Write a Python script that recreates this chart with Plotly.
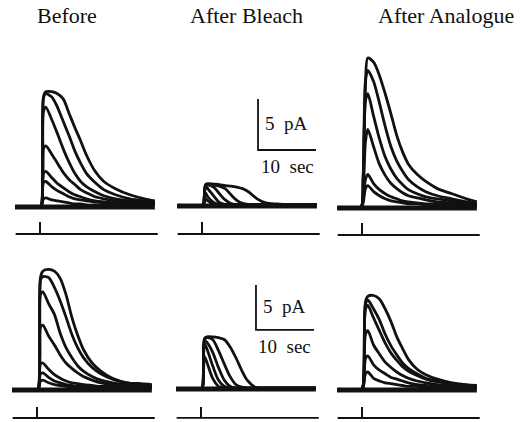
import plotly.graph_objects as go

# ---------------- data ----------------
# time (s, flash at t = 0) at which each current trace (pA) was sampled
T = [-4.3, -2, -0.2, 0.2, 0.6, 1, 2, 3, 4, 5, 6, 7, 8, 9.5, 11, 13, 15.5, 18, 19.8]

TOP_BEFORE = [
    [0, 0, 0, 0, 10.8, 11.3, 11.3, 11.1, 10.6, 9.2, 7.8, 6.5, 5.1, 3.5, 2.5, 1.8, 1.2, 0.8, 0.6],
    [0, 0, 0, 0, 10.7, 11.1, 10.8, 9.8, 8.4, 7.0, 5.5, 4.3, 3.3, 2.4, 1.7, 1.2, 0.8, 0.6, 0.5],
    [0, 0, 0, 0, 9.4, 9.8, 8.6, 7.2, 5.7, 4.4, 3.3, 2.5, 2.0, 1.5, 1.1, 0.8, 0.6, 0.5, 0.4],
    [0, 0, 0, 0, 5.7, 6.0, 5.2, 4.3, 3.4, 2.7, 2.2, 1.7, 1.4, 1.0, 0.8, 0.6, 0.5, 0.4, 0.4],
    [0, 0, 0, 0, 3.3, 3.5, 2.9, 2.3, 1.9, 1.5, 1.2, 1.0, 0.8, 0.6, 0.5, 0.4, 0.4, 0.3, 0.3],
    [0, 0, 0, 0, 2.4, 2.5, 2.0, 1.6, 1.3, 1.0, 0.8, 0.7, 0.6, 0.5, 0.4, 0.3, 0.3, 0.3, 0.3],
    [0, 0, 0, 0, 0.8, 0.9, 0.7, 0.6, 0.5, 0.4, 0.3, 0.3, 0.2, 0.2, 0.2, 0.2, 0.2, 0.2, 0.2],
]
TOP_BLEACH = [
    [0, 0, 0, 0, 2.1, 2.2, 2.15, 2.1, 2.0, 1.95, 1.85, 1.7, 1.4, 0.7, 0.3, 0.2, 0.1, 0.1, 0.1],
    [0, 0, 0, 0, 2.0, 2.1, 2.05, 1.95, 1.7, 1.1, 0.55, 0.25, 0.15, 0.1, 0.1, 0.1, 0.1, 0.1, 0.1],
    [0, 0, 0, 0, 2.0, 2.05, 1.85, 1.2, 0.6, 0.25, 0.15, 0.1, 0.1, 0.1, 0.1, 0.1, 0.1, 0.1, 0.1],
    [0, 0, 0, 0, 1.9, 1.7, 1.0, 0.35, 0.15, 0.1, 0.1, 0.1, 0.1, 0.1, 0.1, 0.1, 0.1, 0.1, 0.1],
    [0, 0, 0, 0, 1.3, 0.9, 0.35, 0.15, 0.1, 0.1, 0.1, 0.1, 0.1, 0.1, 0.1, 0.1, 0.1, 0.1, 0.1],
    [0, 0, 0, 0, 0.7, 0.5, 0.2, 0.1, 0.1, 0.1, 0.1, 0.1, 0.1, 0.1, 0.1, 0.1, 0.1, 0.1, 0.1],
]
TOP_ANALOGUE = [
    [0, 0, 0, 3.0, 12.0, 14.7, 14.3, 13.0, 11.2, 9.2, 7.1, 5.5, 4.3, 3.3, 2.6, 1.9, 1.4, 0.9, 0.6],
    [0, 0, 0, 3.0, 12.5, 13.5, 12.4, 10.3, 8.0, 6.0, 4.6, 3.6, 2.8, 2.1, 1.6, 1.2, 0.9, 0.6, 0.4],
    [0, 0, 0, 2.5, 10.5, 11.2, 9.0, 6.8, 5.0, 3.8, 2.9, 2.3, 1.8, 1.4, 1.1, 0.9, 0.7, 0.5, 0.4],
    [0, 0, 0, 1.5, 6.5, 7.7, 6.0, 4.3, 3.2, 2.4, 1.9, 1.5, 1.2, 1.0, 0.8, 0.6, 0.5, 0.4, 0.3],
    [0, 0, 0, 0.8, 2.8, 3.3, 2.4, 1.8, 1.4, 1.1, 0.9, 0.7, 0.6, 0.5, 0.4, 0.4, 0.3, 0.3, 0.2],
    [0, 0, 0, 0.5, 1.9, 2.2, 1.6, 1.2, 0.9, 0.7, 0.6, 0.5, 0.4, 0.4, 0.3, 0.3, 0.3, 0.2, 0.2],
]
BOTTOM_BEFORE = [
    [0, 0, 0, 0, 12.5, 13.2, 13.4, 13.2, 12.4, 10.6, 8.1, 6.1, 4.5, 3.0, 2.1, 1.3, 0.8, 0.7, 0.6],
    [0, 0, 0, 0, 12.2, 12.6, 12.5, 11.4, 9.9, 8.1, 6.2, 4.7, 3.6, 2.5, 1.8, 1.2, 0.8, 0.6, 0.5],
    [0, 0, 0, 0, 10.6, 10.9, 9.6, 8.4, 6.3, 4.7, 3.6, 2.7, 2.1, 1.5, 1.1, 0.8, 0.6, 0.5, 0.4],
    [0, 0, 0, 0, 7.0, 7.2, 6.0, 5.0, 3.9, 3.0, 2.4, 1.9, 1.5, 1.1, 0.8, 0.6, 0.5, 0.4, 0.4],
    [0, 0, 0, 0, 2.9, 3.0, 2.3, 1.7, 1.3, 1.0, 0.8, 0.7, 0.6, 0.5, 0.4, 0.4, 0.3, 0.3, 0.3],
    [0, 0, 0, 0, 1.8, 1.9, 1.4, 1.0, 0.8, 0.6, 0.5, 0.4, 0.4, 0.3, 0.3, 0.3, 0.3, 0.3, 0.3],
    [0, 0, 0, 0, 1.0, 1.1, 0.8, 0.6, 0.5, 0.4, 0.3, 0.3, 0.3, 0.2, 0.2, 0.2, 0.2, 0.2, 0.2],
]
BOTTOM_BLEACH = [
    [0, 0, 0, 0, 5.6, 5.8, 5.8, 5.7, 5.5, 4.7, 3.5, 2.1, 0.95, 0.15, 0.1, 0.1, 0.1, 0.1, 0.1],
    [0, 0, 0, 0, 5.5, 5.7, 5.5, 4.3, 2.8, 1.4, 0.5, 0.2, 0.1, 0.1, 0.1, 0.1, 0.1, 0.1, 0.1],
    [0, 0, 0, 0, 5.4, 5.2, 4.1, 2.4, 1.0, 0.3, 0.1, 0.1, 0.1, 0.1, 0.1, 0.1, 0.1, 0.1, 0.1],
    [0, 0, 0, 0, 5.0, 4.5, 2.6, 1.0, 0.3, 0.1, 0.1, 0.1, 0.1, 0.1, 0.1, 0.1, 0.1, 0.1, 0.1],
    [0, 0, 0, 0, 3.6, 3.0, 1.2, 0.3, 0.1, 0.1, 0.1, 0.1, 0.1, 0.1, 0.1, 0.1, 0.1, 0.1, 0.1],
]
BOTTOM_ANALOGUE = [
    [0, 0, 0, 0.5, 9.8, 10.4, 10.5, 10.1, 9.0, 7.6, 5.9, 4.6, 3.4, 2.3, 1.7, 1.2, 0.8, 0.6, 0.5],
    [0, 0, 0, 0.5, 9.5, 10.0, 9.0, 7.8, 6.2, 4.9, 3.9, 3.0, 2.4, 1.8, 1.3, 1.0, 0.7, 0.5, 0.4],
    [0, 0, 0, 0.5, 9.0, 9.4, 8.0, 6.6, 5.2, 4.1, 3.3, 2.6, 2.1, 1.6, 1.2, 0.9, 0.7, 0.5, 0.4],
    [0, 0, 0, 0.4, 6.2, 6.6, 5.0, 4.0, 3.1, 2.5, 2.0, 1.6, 1.3, 1.0, 0.8, 0.6, 0.5, 0.4, 0.3],
    [0, 0, 0, 0.3, 3.5, 3.8, 2.8, 2.2, 1.8, 1.4, 1.2, 1.0, 0.8, 0.6, 0.5, 0.4, 0.4, 0.3, 0.3],
    [0, 0, 0, 0.3, 1.8, 2.0, 1.3, 1.0, 0.8, 0.7, 0.6, 0.5, 0.4, 0.4, 0.3, 0.3, 0.3, 0.3, 0.3],
]

TITLES = ["Before", "After Bleach", "After Analogue"]
SCALE_PA = 5      # vertical calibration bar
SCALE_SEC = 10    # horizontal calibration bar
STIM_T = [-4.2, 20.3]   # extent of the stimulus monitor trace (s)

# ---------------- layout / style ----------------
W, H = 528, 422
PX_PER_S = 5.8
ROW_PX_PER_PA = [10.2, 9.0]
X_RANGE = [-5, 21]
Y_RANGES = [[-3.6, 15.6], [-3.3, 14.6]]
STIM_PX = [[40, 202, 362], [37, 201, 362]]       # x pixel of the flash
BASE_PX = [[207, 206, 208], [390, 389, 390]]     # y pixel of the baseline
STIM_LINE_PX = [[234, 234, 235], [418, 418, 418]]
STIM_TICK_PX = [12, 11]
SCALEBAR_POS = [(9.66, 5.49), (9.48, 6.56)]      # (t, pA) of bar corner in the bleach panels
INK = "#111111"
SERIF = "Liberation Serif, Times New Roman, serif"

DATA = [[TOP_BEFORE, TOP_BLEACH, TOP_ANALOGUE],
        [BOTTOM_BEFORE, BOTTOM_BLEACH, BOTTOM_ANALOGUE]]

fig = go.Figure()
layout_axes = {}
annotations = []

k = 0
for r in range(2):
    ppa = ROW_PX_PER_PA[r]
    y0, y1 = Y_RANGES[r]
    for c in range(3):
        k += 1
        xa = "x" if k == 1 else f"x{k}"
        ya = "y" if k == 1 else f"y{k}"
        sx, by = STIM_PX[r][c], BASE_PX[r][c]
        xd = [(sx + X_RANGE[0] * PX_PER_S) / W, (sx + X_RANGE[1] * PX_PER_S) / W]
        yd = [1 - (by - y0 * ppa) / H, 1 - (by - y1 * ppa) / H]
        ax_common = dict(visible=False, showgrid=False, zeroline=False, fixedrange=True)
        layout_axes["xaxis" if k == 1 else f"xaxis{k}"] = dict(
            domain=xd, range=X_RANGE, anchor=ya, **ax_common)
        layout_axes["yaxis" if k == 1 else f"yaxis{k}"] = dict(
            domain=yd, range=[y0, y1], anchor=xa, **ax_common)

        # noisy baseline band
        fig.add_trace(go.Scatter(x=[T[0], T[-1]], y=[0, 0], mode="lines",
                                 line=dict(color=INK, width=5), xaxis=xa, yaxis=ya,
                                 hoverinfo="skip", showlegend=False))
        for tr in DATA[r][c]:
            fig.add_trace(go.Scatter(x=T, y=tr, mode="lines",
                                     line=dict(color=INK, width=2.8, shape="spline", smoothing=0.8),
                                     xaxis=xa, yaxis=ya, showlegend=False))
        # stimulus monitor
        lvl = -(STIM_LINE_PX[r][c] - by) / ppa
        tick = lvl + STIM_TICK_PX[r] / ppa
        fig.add_trace(go.Scatter(x=[STIM_T[0], STIM_T[1], None, 0, 0],
                                 y=[lvl, lvl, None, lvl, tick], mode="lines",
                                 line=dict(color=INK, width=2), xaxis=xa, yaxis=ya,
                                 hoverinfo="skip", showlegend=False))
        if c == 1:
            t0, i0 = SCALEBAR_POS[r]
            fig.add_trace(go.Scatter(x=[t0, t0, t0 + SCALE_SEC], y=[i0 + SCALE_PA, i0, i0],
                                     mode="lines", line=dict(color=INK, width=1.8),
                                     xaxis=xa, yaxis=ya, hoverinfo="skip", showlegend=False))
            annotations.append(dict(x=t0 + 0.9, y=i0 + 0.52 * SCALE_PA, xref=xa, yref=ya,
                                    text=f"{SCALE_PA}\u00a0 pA", showarrow=False,
                                    xanchor="left", yanchor="middle",
                                    font=dict(family=SERIF, size=19, color=INK)))
            annotations.append(dict(x=t0 + SCALE_SEC / 2, y=i0 - 1.6 * 10.2 / ppa, xref=xa, yref=ya,
                                    text=f"{SCALE_SEC}\u00a0 sec", showarrow=False,
                                    xanchor="center", yanchor="middle",
                                    font=dict(family=SERIF, size=19, color=INK)))

TITLE_X_PX = [67, 246, 446]
for name, px in zip(TITLES, TITLE_X_PX):
    annotations.append(dict(x=px / W, y=1 - 16 / H, xref="paper", yref="paper", text=name,
                            showarrow=False, xanchor="center", yanchor="middle",
                            font=dict(family=SERIF, size=22, color=INK)))

fig.update_layout(width=W, height=H, margin=dict(l=0, r=0, t=0, b=0),
                  paper_bgcolor="white", plot_bgcolor="white",
                  annotations=annotations, showlegend=False, **layout_axes)

fig.write_html("out.html", config={"displayModeBar": False, "staticPlot": True},
               post_script="document.body.style.margin='0px';")
